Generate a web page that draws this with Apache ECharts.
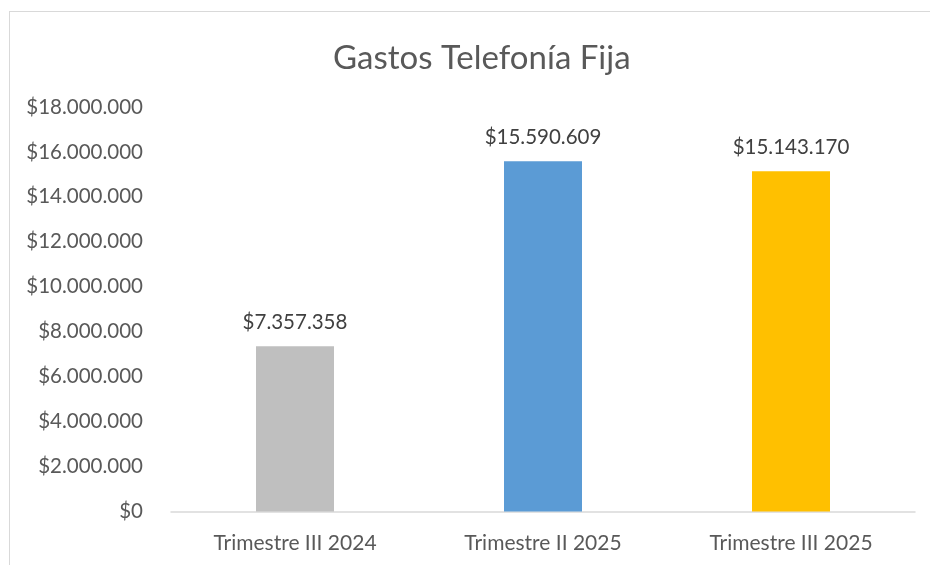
<!DOCTYPE html>
<html>
<head>
<meta charset="utf-8">
<script src="https://cdn.jsdelivr.net/npm/echarts@6/dist/echarts.min.js"></script>
<style>
  html, body { margin: 0; padding: 0; background: #fff; overflow: hidden; }
  #frame {
    position: absolute; left: 9px; top: 11px; width: 1000px; height: 1000px;
    border: 1.5px solid #d9d9d9; box-sizing: border-box;
  }
  #chart { position: absolute; left: 0; top: 0; width: 930px; height: 565px; }
</style>
</head>
<body>
<div id="frame"></div>
<div id="chart"></div>
<script>
const categories = ['Trimestre III 2024', 'Trimestre II 2025', 'Trimestre III 2025']
const values = [7357358, 15590609, 15143170]
const barColors = ['#BFBFBF', '#5B9BD5', '#FFC000']

const fontFamily = 'Lato, "Open Sans", sans-serif'

// Excel-style "$1.234.567"
const money = (v) => '$' + Math.round(v).toString().replace(/\B(?=(\d{3})+(?!\d))/g, '.')

const chart = echarts.init(document.getElementById('chart'), null, { renderer: 'canvas' })

chart.setOption({
  animation: false,
  title: {
    text: 'Gastos Telefonía Fija',
    left: 328,
    top: 37,
    textStyle: { color: '#595959', fontFamily, fontSize: 33, fontWeight: 'normal' },
  },
  grid: { left: 171, right: 15, top: 107, bottom: 53.5, containLabel: false },
  xAxis: {
    type: 'category',
    data: categories,
    axisLine: { lineStyle: { color: '#d9d9d9', width: 1.5 } },
    axisTick: { show: false },
    axisLabel: { color: '#595959', fontFamily, fontSize: 21, margin: 21 },
  },
  yAxis: {
    type: 'value',
    min: 0,
    max: 18000000,
    interval: 2000000,
    splitLine: { show: false },
    axisLine: { show: false },
    axisTick: { show: false },
    axisLabel: { color: '#595959', fontFamily, fontSize: 20.5, margin: 28, formatter: money },
  },
  series: [
    {
      type: 'bar',
      barWidth: 78,
      data: values.map((v, i) => ({ value: v, itemStyle: { color: barColors[i] } })),
      label: {
        show: true,
        position: 'top',
        distance: 13,
        color: '#404040',
        fontFamily,
        fontSize: 20.5,
        formatter: (p) => money(p.value),
      },
    },
  ],
})
</script>
</body>
</html>
